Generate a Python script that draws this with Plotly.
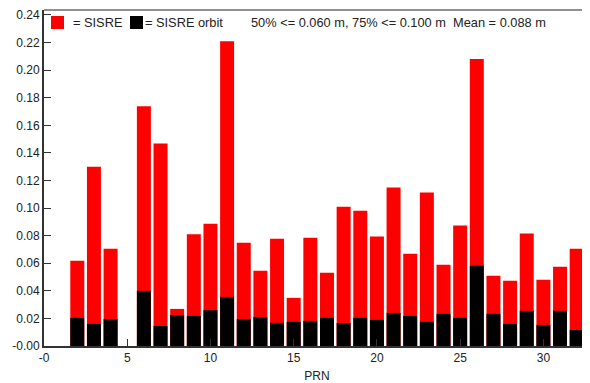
import plotly.graph_objects as go

prn = list(range(1, 33))
sisre = [0.0, 0.0618, 0.130, 0.0705, 0.0, 0.1738, 0.1469, 0.0269, 0.081, 0.0887,
         0.221, 0.0749, 0.0545, 0.0778, 0.0349, 0.0785, 0.0531, 0.101, 0.098, 0.0793,
         0.1149, 0.0669, 0.1113, 0.0589, 0.0873, 0.208, 0.0509, 0.0473, 0.0815, 0.048,
         0.0575, 0.0705]
sisre_orbit = [0.0, 0.0204, 0.016, 0.0196, 0.0, 0.040, 0.0145, 0.0225, 0.0218, 0.026,
               0.0356, 0.0196, 0.021, 0.0168, 0.0175, 0.0182, 0.0204, 0.0167, 0.0204, 0.0189,
               0.024, 0.0218, 0.0175, 0.0233, 0.0204, 0.0582, 0.0233, 0.016, 0.0255, 0.0153,
               0.0255, 0.0116]
ytick_vals = [0.00, 0.02, 0.04, 0.06, 0.08, 0.10, 0.12, 0.14, 0.16, 0.18, 0.20, 0.22, 0.24]
ytick_text = ["-0.00", "0.02", "0.04", "0.06", "0.08", "0.10", "0.12", "0.14", "0.16",
              "0.18", "0.20", "0.22", "0.24"]
xtick_vals = [0, 5, 10, 15, 20, 25, 30]
xtick_text = ["-0", "5", "10", "15", "20", "25", "30"]
stats_text = "50% <= 0.060 m, 75% <= 0.100 m  Mean = 0.088 m"

FONT = "Liberation Sans, Arial, sans-serif"
AX = "#333333"

fig = go.Figure()
fig.add_trace(go.Bar(x=prn, y=sisre, width=0.84, marker=dict(color="#ff0000", line=dict(width=0)),
                     name="= SISRE"))
fig.add_trace(go.Bar(x=prn, y=sisre_orbit, width=0.84, marker=dict(color="#000000", line=dict(width=0)),
                     name="= SISRE orbit"))

# page body has an 8px margin, so the figure is sized/offset to compensate
fig.update_layout(
    width=582, height=375,
    margin=dict(l=36, r=0, t=2, b=37),
    barmode="overlay",
    showlegend=False,
    plot_bgcolor="white", paper_bgcolor="white",
    font=dict(family=FONT, size=12, color="#222222"),
    xaxis=dict(range=[0, 32.8], tickvals=xtick_vals, ticktext=xtick_text,
               ticks="inside", ticklen=7, tickcolor=AX, tickwidth=1,
               showline=True, linecolor=AX, linewidth=2, mirror=False,
               showgrid=False, zeroline=False,
               title=dict(text="PRN", standoff=8, font=dict(size=12))),
    yaxis=dict(range=[0, 0.2436], tickvals=ytick_vals, ticktext=ytick_text,
               ticks="inside", ticklen=7, tickcolor=AX, tickwidth=1,
               showline=True, linecolor=AX, linewidth=2,
               showgrid=False, zeroline=False),
)

# top frame line
fig.add_shape(type="line", xref="paper", yref="paper", x0=0, x1=1, y0=1, y1=1,
              line=dict(color="#222222", width=1))

# legend boxes (paper coords) and texts
def px_x(p):
    return (p - 44) / 546.0

def px_y(p):
    return (346 - p) / 336.0

fig.add_shape(type="rect", xref="paper", yref="paper",
              x0=px_x(51), x1=px_x(64), y0=px_y(29), y1=px_y(16),
              fillcolor="#ff0000", line=dict(width=0))
fig.add_shape(type="rect", xref="paper", yref="paper",
              x0=px_x(130), x1=px_x(143), y0=px_y(29), y1=px_y(16),
              fillcolor="#000000", line=dict(width=0))
for xx, txt in [(71, "= SISRE"), (143, "= SISRE orbit"), (249, stats_text)]:
    fig.add_annotation(xref="paper", yref="paper", x=px_x(xx), y=px_y(22.5),
                       text=txt, showarrow=False, xanchor="left", yanchor="middle",
                       font=dict(family=FONT, size=12.8, color="#222222"))

fig.write_html("out.html")
